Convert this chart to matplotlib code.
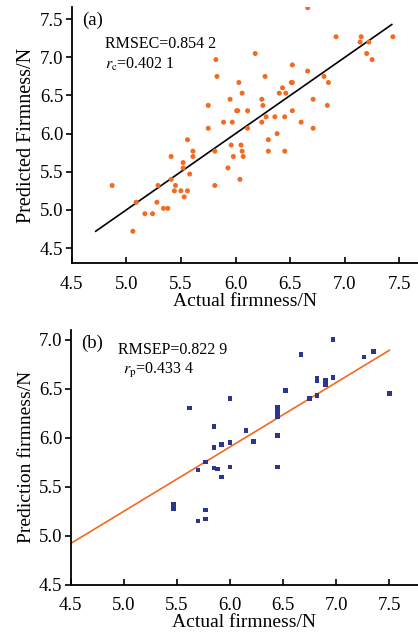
import numpy as np
import matplotlib
matplotlib.use('Agg')
import matplotlib.pyplot as plt

plt.rcParams['font.family'] = ['Liberation Serif', 'DejaVu Serif']
plt.rcParams['mathtext.fontset'] = 'stix'

# Calibration set (a)
cal_actual = [4.87, 5.06, 5.09, 5.17, 5.24, 5.28, 5.29, 5.34, 5.38, 5.41, 5.41, 5.44,
              5.45, 5.50, 5.52, 5.52, 5.53, 5.56, 5.56, 5.58, 5.61, 5.61, 5.75, 5.75,
              5.81, 5.81, 5.82, 5.83, 5.89, 5.93, 5.95, 5.96, 5.97, 5.98, 6.01, 6.02,
              6.03, 6.04, 6.05, 6.06, 6.06, 6.07, 6.11, 6.11, 6.18, 6.24, 6.24, 6.25,
              6.27, 6.28, 6.30, 6.30, 6.36, 6.38, 6.40, 6.43, 6.45, 6.45, 6.46, 6.51,
              6.52, 6.52, 6.52, 6.60, 6.66, 6.66, 6.71, 6.71, 6.81, 6.84, 6.85, 6.92,
              7.14, 7.15, 7.20, 7.22, 7.25, 7.44]
cal_pred = [5.32, 4.72, 5.10, 4.95, 4.95, 5.10, 5.32, 5.02, 5.02, 5.70, 5.40, 5.25,
            5.32, 5.25, 5.62, 5.55, 5.17, 5.25, 5.92, 5.47, 5.70, 5.77, 6.37, 6.07,
            5.77, 5.32, 6.97, 6.75, 6.15, 5.55, 6.45, 5.85, 6.15, 5.70, 6.30, 6.30,
            6.67, 5.40, 5.85, 6.53, 5.77, 5.70, 6.30, 6.07, 7.05, 6.15, 6.45, 6.37,
            6.75, 6.22, 5.92, 5.77, 6.22, 6.00, 6.53, 6.60, 6.22, 5.77, 6.53, 6.67,
            6.90, 6.67, 6.30, 6.15, 7.65, 6.82, 6.45, 6.07, 6.75, 6.37, 6.67, 7.27,
            7.20, 7.27, 7.05, 7.20, 6.97, 7.27]
cal_line_x = [4.72, 7.43]
cal_line_y = [4.72, 7.43]

# Prediction set (b)
pre_actual = [5.47, 5.47, 5.62, 5.70, 5.70, 5.77, 5.77, 5.77, 5.85, 5.85, 5.85, 5.88,
              5.92, 5.92, 6.00, 6.00, 6.00, 6.15, 6.22, 6.45, 6.45, 6.45, 6.45, 6.45,
              6.45, 6.52, 6.67, 6.75, 6.82, 6.82, 6.82, 6.90, 6.90, 6.90, 6.97, 6.97,
              7.26, 7.35, 7.50]
pre_pred = [5.32, 5.27, 6.30, 5.67, 5.15, 5.75, 5.26, 5.17, 6.11, 5.90, 5.69, 5.68,
            5.93, 5.60, 6.40, 5.95, 5.70, 6.07, 5.96, 6.31, 6.28, 6.24, 6.21, 6.02,
            5.70, 6.48, 6.85, 6.40, 6.60, 6.58, 6.43, 6.58, 6.56, 6.54, 7.00, 6.61,
            6.82, 6.88, 6.45]
pre_line_x = [4.5, 7.5]
pre_line_y = [4.92, 6.89]

ticks = [4.5, 5.0, 5.5, 6.0, 6.5, 7.0, 7.5]

fig = plt.figure(figsize=(4.18, 6.35), dpi=100)
ax_a = fig.add_axes([0.1715, 0.5854, 0.8285, 0.4036])
ax_b = fig.add_axes([0.1691, 0.0792, 0.8309, 0.4016])

for ax in (ax_a, ax_b):
    ax.spines['top'].set_visible(False)
    ax.spines['right'].set_visible(False)
    ax.spines['left'].set_linewidth(1.3)
    ax.spines['bottom'].set_linewidth(1.3)
    ax.tick_params(axis='x', direction='in', length=4, width=1.2, labelsize=13.5, pad=9)
    ax.tick_params(axis='y', direction='out', length=4, width=1.2, labelsize=13.5, pad=2)
    ax.set_xticks(ticks)

# (a)
ax_a.scatter(cal_actual, cal_pred, s=13, color='#f36a21', edgecolors='none', zorder=3)
ax_a.plot(cal_line_x, cal_line_y, color='black', lw=1.2)
ax_a.set_xlim(4.5, 7.67)
ax_a.set_ylim(4.30, 7.66)
ax_a.set_yticks(ticks)
ax_a.set_xlabel('Actual firmness/N', fontsize=14, labelpad=0)
ax_a.set_ylabel('Predicted Firmness/N', fontsize=14.5, labelpad=3)
ax_a.text(0.03, 0.949, '(a)', transform=ax_a.transAxes, fontsize=13.5, va='center')
ax_a.text(0.097, 0.855, 'RMSEC=0.854 2', transform=ax_a.transAxes, fontsize=11.5, va='center')
ax_a.text(0.097, 0.775, r'$r_\mathrm{c}$=0.402 1', transform=ax_a.transAxes, fontsize=11.5, va='center')

# (b)
ax_b.scatter(pre_actual, pre_pred, s=11, marker='s', color='#2c3592', edgecolors='none', zorder=3)
ax_b.plot(pre_line_x, pre_line_y, color='#f36a21', lw=1.2)
ax_b.set_xlim(4.5, 7.77)
ax_b.set_ylim(4.5, 7.10)
ax_b.set_yticks([4.5, 5.0, 5.5, 6.0, 6.5, 7.0])
ax_b.set_xlabel('Actual firmness/N', fontsize=14, labelpad=0)
ax_b.set_ylabel('Prediction firmness/N', fontsize=14, labelpad=3)
ax_b.text(0.03, 0.948, '(b)', transform=ax_b.transAxes, fontsize=13.5, va='center')
ax_b.text(0.137, 0.92, 'RMSEP=0.822 9', transform=ax_b.transAxes, fontsize=11.5, va='center')
ax_b.text(0.151, 0.84, r'$r_\mathrm{p}$=0.433 4', transform=ax_b.transAxes, fontsize=11.5, va='center')

fig.savefig('out.png', dpi=100)
